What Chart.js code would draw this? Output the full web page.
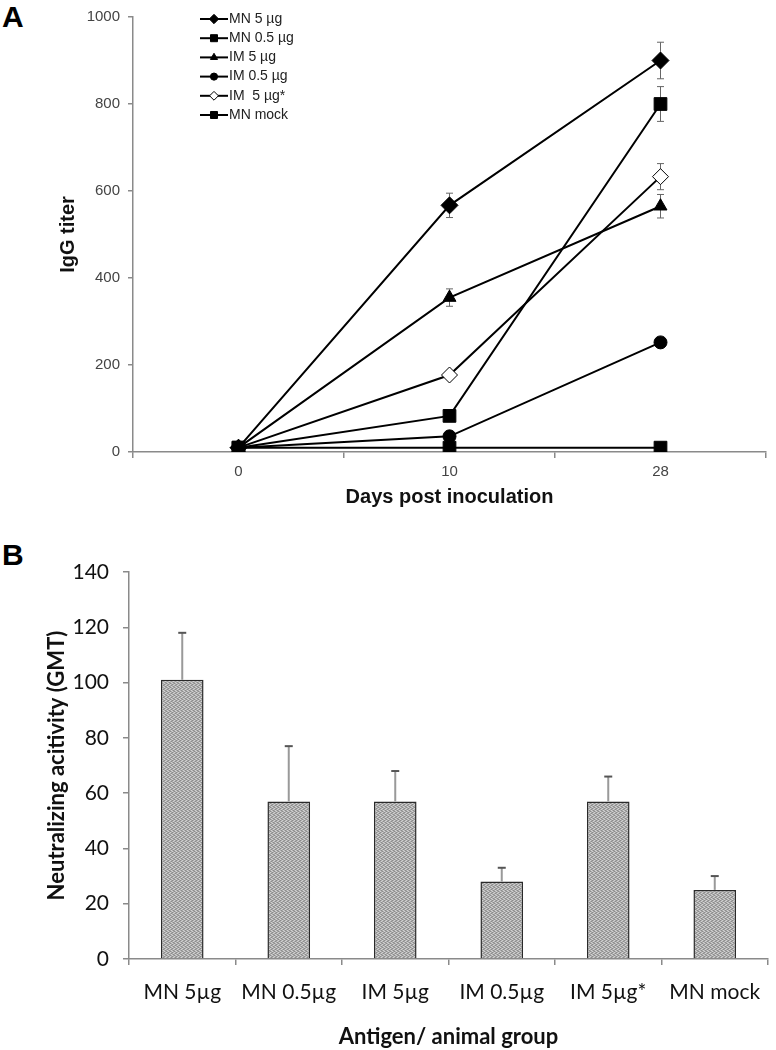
<!DOCTYPE html>
<html>
<head>
<meta charset="utf-8">
<script src="https://cdn.jsdelivr.net/npm/chart.js@4.4.0/dist/chart.umd.min.js"></script>
<style>
  body { margin: 0; background: #fff; width: 776px; height: 1050px; position: relative; overflow: hidden; }
  canvas { position: absolute; left: 0; }
  #chartA { top: 0; }
  #chartB { top: 540px; }
  .tag { position: absolute; left: 2px; font: bold 30px "Liberation Sans", Arial, sans-serif; color: #000; line-height: 1; }
</style>
</head>
<body>
<div class="tag" style="top:2px">A</div>
<div class="tag" style="top:540px">B</div>
<canvas id="chartA" width="776" height="520"></canvas>
<canvas id="chartB" width="776" height="510"></canvas>
<script>
// Panel A - IgG titer over time
const daysA = ['0', '10', '28'];
const mn5 = [10, 567, 900];
const mn5Err = [0, 28, 42];
const mn05 = [10, 83, 800];
const mn05Err = [0, 0, 40];
const im5 = [10, 355, 565];
const im5Err = [0, 20, 27];
const im05 = [10, 36, 252];
const im5star = [10, 177, 633];
const im5starErr = [0, 0, 30];
const mnMock = [10, 10, 10];

// Panel B - neutralizing activity
const groupsB = ['MN 5µg', 'MN 0.5µg', 'IM 5µg', 'IM 0.5µg', 'IM 5µg*', 'MN mock'];
const gmtB = [101, 57, 57, 28, 57, 25];
const gmtErrB = [17, 20, 11, 5, 9, 5];

const AXIS_GRAY = '#8a8a8a';
const arial = '"Liberation Sans", Arial, sans-serif';
const calibriLike = 'Lato, "Open Sans", sans-serif';

// draws error bars using the chart's own y scale
const errorBars = {
  id: 'errorBars',
  beforeDatasetsDraw(chart, args, opts) {
    if (opts.behind) drawErrors(chart, opts);
  },
  afterDatasetsDraw(chart, args, opts) {
    if (!opts.behind) drawErrors(chart, opts);
  }
};

function drawErrors(chart, opts) {
  const ctx = chart.ctx;
  const yScale = chart.scales.y;
  ctx.save();
  chart.data.datasets.forEach((ds, i) => {
    if (!ds.errors) return;
    const meta = chart.getDatasetMeta(i);
    meta.data.forEach((el, j) => {
      const e = ds.errors[j];
      if (!e) return;
      const v = ds.data[j];
      const x = el.x;
      const top = yScale.getPixelForValue(v + e);
      const bot = opts.upOnly ? yScale.getPixelForValue(v) : yScale.getPixelForValue(v - e);
      ctx.strokeStyle = opts.color;
      ctx.lineWidth = opts.width;
      ctx.beginPath();
      ctx.moveTo(x, top);
      ctx.lineTo(x, bot);
      ctx.stroke();
      ctx.strokeStyle = opts.capColor || opts.color;
      ctx.lineWidth = opts.capWidth || opts.width;
      ctx.beginPath();
      ctx.moveTo(x - opts.cap, top);
      ctx.lineTo(x + opts.cap, top);
      if (!opts.upOnly) {
        ctx.moveTo(x - opts.cap, bot);
        ctx.lineTo(x + opts.cap, bot);
      }
      ctx.stroke();
    });
  });
  ctx.restore();
}

// legend drawn inside the plot area, like the original
const insideLegend = {
  id: 'insideLegend',
  afterDraw(chart, args, opts) {
    const ctx = chart.ctx;
    ctx.save();
    ctx.font = opts.font;
    ctx.textBaseline = 'middle';
    chart.data.datasets.forEach((ds, i) => {
      const y = opts.y + i * opts.rowGap;
      ctx.strokeStyle = '#000';
      ctx.lineWidth = 2;
      ctx.beginPath();
      ctx.moveTo(opts.x, y);
      ctx.lineTo(opts.x + opts.lineLen, y);
      ctx.stroke();
      ctx.fillStyle = ds.pointBackgroundColor;
      ctx.strokeStyle = '#000';
      ctx.lineWidth = 1;
      Chart.helpers.drawPoint(ctx, { pointStyle: ds.pointStyle, radius: ds.pointRadius * 0.55, rotation: 0, borderWidth: 1 }, opts.x + opts.lineLen / 2, y);
      ctx.fillStyle = '#222';
      ctx.fillText(ds.label, opts.x + opts.lineLen + 1, y);
    });
    ctx.restore();
  }
};

function lineSet(label, data, style, radius, errors, fill) {
  return {
    label: label,
    data: data,
    errors: errors,
    borderColor: '#000',
    borderWidth: 2,
    pointStyle: style,
    pointRadius: radius,
    pointBackgroundColor: fill || '#000',
    pointBorderColor: '#000',
    pointBorderWidth: 1,
    tension: 0
  };
}

new Chart(document.getElementById('chartA'), {
  type: 'line',
  data: {
    labels: daysA,
    datasets: [
      lineSet('MN 5 µg', mn5, 'rectRot', 8.5, mn5Err),
      lineSet('MN 0.5 µg', mn05, 'rect', 9, mn05Err),
      lineSet('IM 5 µg', im5, 'triangle', 7.5, im5Err),
      lineSet('IM 0.5 µg', im05, 'circle', 6.5, null),
      lineSet('IM  5 µg*', im5star, 'rectRot', 8, im5starErr, '#fff'),
      lineSet('MN mock', mnMock, 'rect', 9, null)
    ]
  },
  options: {
    responsive: false,
    animation: false,
    layout: { padding: { top: 6, right: 2, left: 0, bottom: 0 } },
    plugins: {
      legend: { display: false },
      tooltip: { enabled: false },
      errorBars: { behind: true, color: '#666', width: 1, cap: 3.5 },
      insideLegend: { x: 200, y: 19, rowGap: 19.2, lineLen: 28, font: '14px ' + arial }
    },
    scales: {
      x: {
        type: 'category',
        offset: true,
        grid: { offset: true, drawOnChartArea: false, tickLength: 6, color: AXIS_GRAY, lineWidth: 1.5 },
        border: { color: AXIS_GRAY, width: 1.5 },
        ticks: { color: '#444', padding: 5, font: { family: arial, size: 15 } },
        title: { display: true, text: 'Days post inoculation', color: '#111', padding: { top: 0, bottom: 11 },
                 font: { family: arial, size: 20, weight: 'bold' } },
        afterFit: s => { s.height = 68; }
      },
      y: {
        min: 0,
        max: 1000,
        ticks: { stepSize: 200, color: '#444', padding: 8, format: { useGrouping: false },
                 font: { family: arial, size: 15 } },
        grid: { drawOnChartArea: false, tickLength: 5, color: AXIS_GRAY, lineWidth: 1.5 },
        border: { color: AXIS_GRAY, width: 1.5 },
        title: { display: true, text: 'IgG titer', color: '#111', padding: { top: 56, bottom: 0 },
                 font: { family: arial, size: 20, weight: 'bold' } },
        afterFit: s => { s.width = 133; }
      }
    }
  },
  plugins: [errorBars, insideLegend]
});

// stippled grey fill for the bars
function stipple() {
  const c = document.createElement('canvas');
  c.width = 4; c.height = 4;
  const g = c.getContext('2d');
  g.fillStyle = '#acacac';
  g.fillRect(0, 0, 4, 4);
  g.fillStyle = '#8c8c8c';
  [[0, 0], [3, 1], [1, 2], [2, 3]].forEach(p => g.fillRect(p[0], p[1], 1, 1));
  g.fillStyle = '#d2d2d2';
  [[2, 0], [0, 3], [3, 2], [1, 1]].forEach(p => g.fillRect(p[0], p[1], 1, 1));
  return g.createPattern(c, 'repeat');
}

new Chart(document.getElementById('chartB'), {
  type: 'bar',
  data: {
    labels: groupsB,
    datasets: [{
      label: 'GMT',
      data: gmtB,
      errors: gmtErrB,
      backgroundColor: stipple(),
      borderColor: '#2a2a2a',
      borderWidth: 1.5,
      barPercentage: 0.4,
      categoryPercentage: 1
    }]
  },
  options: {
    responsive: false,
    animation: false,
    layout: { padding: { top: 32, right: 8, left: 0, bottom: 0 } },
    plugins: {
      legend: { display: false },
      tooltip: { enabled: false },
      errorBars: { behind: false, upOnly: true, color: '#999', width: 2, cap: 4, capColor: '#555', capWidth: 2 }
    },
    scales: {
      x: {
        grid: { offset: true, drawOnChartArea: false, tickLength: 6, color: AXIS_GRAY, lineWidth: 1.5 },
        border: { color: AXIS_GRAY, width: 1.5 },
        ticks: { color: '#111', padding: 15, font: { family: calibriLike, size: 21 } },
        title: { display: true, text: 'Antigen/ animal group', color: '#111', padding: { top: 0, bottom: 0 },
                 font: { family: calibriLike, size: 22, weight: 'bold' } },
        afterFit: s => { s.height = 91; }
      },
      y: {
        min: 0,
        max: 140,
        ticks: { stepSize: 20, color: '#111', padding: 14, font: { family: calibriLike, size: 21 } },
        grid: { drawOnChartArea: false, tickLength: 6, color: AXIS_GRAY, lineWidth: 1.5 },
        border: { color: AXIS_GRAY, width: 1.5 },
        title: { display: true, text: 'Neutralizing acitivity (GMT)', color: '#111', padding: { top: 44, bottom: 0 },
                 font: { family: calibriLike, size: 22, weight: 'bold' } },
        afterFit: s => { s.width = 129; }
      }
    }
  },
  plugins: [errorBars]
});
</script>
</body>
</html>
